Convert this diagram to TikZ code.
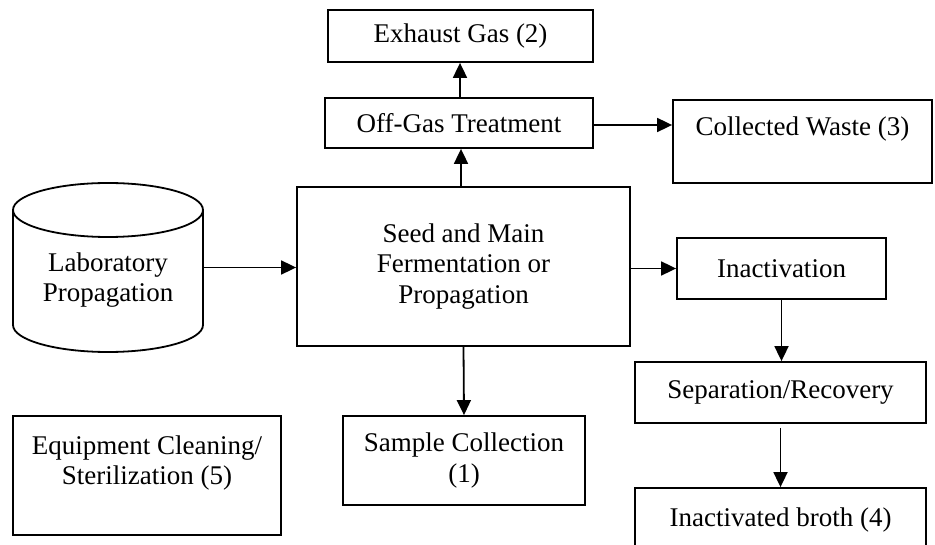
\documentclass[tikz,border=0pt]{standalone}
\usepackage{fontspec}
\setmainfont{Liberation Serif}
\usetikzlibrary{arrows.meta}
\begin{document}
\begin{tikzpicture}[x=1pt,y=-1pt,line width=1.8pt,
  box/.style={draw,rectangle,inner sep=0pt,align=center,font=\fontsize{27}{30.5}\selectfont},
  lbl/.style={inner sep=0pt,align=center,font=\fontsize{27}{30.5}\selectfont},
  arr/.style={-{Triangle[length=15pt,width=14pt]}}]
\useasboundingbox (0,0) rectangle (935,545);
% boxes
\node[box,minimum width=265pt,minimum height=52pt] (exh) at (460.5,36) {Exhaust Gas (2)};
\node[box,minimum width=268pt,minimum height=50pt] (off) at (459,123) {Off-Gas Treatment};
\node[box,minimum width=259pt,minimum height=83pt] (waste) at (802.5,141.5) {Collected Waste (3)\\\mbox{}};
\node[box,minimum width=333pt,minimum height=159pt] (main) at (463.5,266.5) {Seed and Main\\Fermentation or\\Propagation};
\node[box,minimum width=209pt,minimum height=61pt] (inact) at (781.5,268.5) {Inactivation};
\node[box,minimum width=291pt,minimum height=61pt] (sep) at (780.5,392.5) {Separation/Recovery};
\node[box,minimum width=291pt,minimum height=64pt] (broth) at (780.5,520) {Inactivated broth (4)};
\node[box,minimum width=242pt,minimum height=89pt] (sample) at (464,460.5) {Sample Collection\\(1)};
\node[box,minimum width=268pt,minimum height=119pt] (equip) at (147,475.5) {Equipment Cleaning/\\Sterilization (5)\\\mbox{}};
% cylinder
\node[inner sep=0pt,minimum width=190pt,minimum height=169pt] (lab) at (108,267.5) {};
\draw (13,210) -- (13,325) arc[start angle=180,end angle=0,x radius=95,y radius=27] -- (203,210);
\draw (108,210) ellipse[x radius=95,y radius=27];
\node[lbl] (labtxt) at (108,280) {Laboratory\\Propagation};
% connectors
\draw[arr] (lab.east) -- (main.west |- lab.east);
\draw[arr] ([xshift=-2.5pt]main.north) -- ([xshift=-2.5pt]main.north |- off.south);
\draw[arr] ([xshift=1pt]off.north) -- ([xshift=1pt]off.north |- exh.south);
\draw[arr] ([yshift=-2pt]off.east) -- ([yshift=-2pt]off.east -| waste.west);
\draw[arr] (main.east |- inact.west) -- (inact.west);
\draw[arr] (inact.south) -- (sep.north -| inact.south);
\draw[arr] ([yshift=-4pt]sep.south) -- (broth.north);
\draw[arr] (main.south) -- (sample.north);
\end{tikzpicture}
\end{document}
